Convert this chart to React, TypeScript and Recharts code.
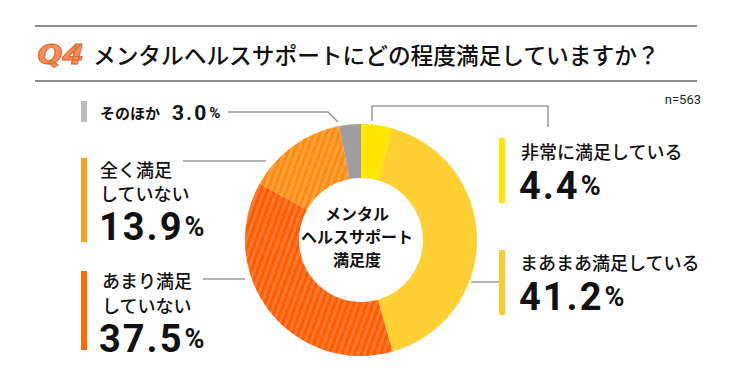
import React from "react";
import { PieChart, Pie, Cell } from "recharts";

const categories = [
  "非常に満足している",
  "まあまあ満足している",
  "あまり満足していない",
  "全く満足していない",
  "そのほか",
];
const shares = [4.4, 41.2, 37.5, 13.9, 3.0];
const sliceFills = [
  "#FFE600",
  "#FFD033",
  "url(#stripeRed)",
  "url(#stripeOrange)",
  "#9E9E9E",
];
const barColors = ["#FFE600", "#FFCC2E", "#FF6A00", "#F9A11B", "#BDBDBD"];
const labelLines = [
  ["非常に満足している"],
  ["まあまあ満足している"],
  ["あまり満足", "していない"],
  ["全く満足", "していない"],
  ["そのほか"],
];

const titleText = "メンタルヘルスサポートにどの程度満足していますか？";
const centerLines = ["メンタル", "ヘルスサポート", "満足度"];
const sampleNote = "n=563";

const chartData = categories.map((name, i) => ({ name, value: shares[i] }));

const JP = '"Noto Sans CJK JP", sans-serif';
const NUM = 'Roboto, "Noto Sans", sans-serif';
const LINE = "#9A9A9A";

function BigPct({ x, y, value, size, pctSize }: { x: number; y: number; value: number; size: number; pctSize: number }) {
  return (
    <text x={x} y={y} fontFamily={NUM} fontWeight={700} fill="#111" dominantBaseline="central" letterSpacing={2}>
      <tspan fontSize={size}>{value.toFixed(1)}</tspan>
      <tspan fontSize={pctSize} dx={1}>%</tspan>
    </text>
  );
}

export default function App() {
  return (
    <div style={{ position: "absolute", left: 0, top: 0, width: 737, height: 387, background: "#fff" }}>
      <svg width={0} height={0} style={{ position: "absolute" }}>
        <defs>
          <pattern id="stripeRed" width="6" height="6" patternUnits="userSpaceOnUse" patternTransform="rotate(20)">
            <rect width="6" height="6" fill="#FF5C00" />
            <rect width="3" height="6" fill="#FF7A30" />
          </pattern>
          <pattern id="stripeOrange" width="6" height="6" patternUnits="userSpaceOnUse" patternTransform="rotate(20)">
            <rect width="6" height="6" fill="#FF8A12" />
            <rect width="3" height="6" fill="#FFA23A" />
          </pattern>
        </defs>
      </svg>
      <PieChart width={737} height={387} style={{ position: "absolute", left: 0, top: 0 }}>
        <Pie
          data={chartData}
          dataKey="value"
          nameKey="name"
          cx={356}
          cy={235}
          innerRadius={62}
          outerRadius={116}
          startAngle={90}
          endAngle={-270}
          stroke="none"
          isAnimationActive={false}
        >
          {chartData.map((d, i) => (
            <Cell key={`cell-${d.name}`} fill={sliceFills[i]} />
          ))}
        </Pie>
      </PieChart>
      <svg width={737} height={387} style={{ position: "absolute", left: 0, top: 0, pointerEvents: "none" }}>
        {/* title block */}
        <line x1={35} y1={26} x2={697} y2={26} stroke="#8C8C8C" strokeWidth={2} />
        <line x1={35} y1={81} x2={697} y2={81} stroke="#8C8C8C" strokeWidth={2} />
        <text x={37} y={54} fontFamily={NUM} fontSize={28} fontWeight={900} fontStyle="italic" fill="#FF8C55" stroke="#D0662E" strokeWidth={0.8} dominantBaseline="central" textLength={46} lengthAdjust="spacingAndGlyphs">
          Q4
        </text>
        <text x={93} y={54} fontFamily={JP} fontSize={22.7} fontWeight={500} fill="#111" dominantBaseline="central">
          {titleText}
        </text>
        <text x={701} y={99} fontFamily={NUM} fontSize={13} fill="#222" textAnchor="end" dominantBaseline="central">
          {sampleNote}
        </text>

        {/* center label */}
        {centerLines.map((t, i) => (
          <text key={t} x={357} y={213 + i * 23} fontFamily={JP} fontSize={16} fontWeight={700} fill="#111" textAnchor="middle" dominantBaseline="central">
            {t}
          </text>
        ))}

        {/* leader lines */}
        <polyline points="372,121 372,106 548,106 548,127" fill="none" stroke={LINE} strokeWidth={1.5} />
        <polyline points="471,282 501,282" fill="none" stroke={LINE} strokeWidth={1.5} />
        <polyline points="203,279 245,279" fill="none" stroke={LINE} strokeWidth={1.5} />
        <polyline points="183,161 266,161" fill="none" stroke={LINE} strokeWidth={1.5} />
        <polyline points="228,112 328,112 338,122" fill="none" stroke={LINE} strokeWidth={1.5} />

        {/* right labels */}
        <rect x={499} y={138} width={6} height={65} fill={barColors[0]} />
        <text x={521} y={151} fontFamily={JP} fontSize={18} fontWeight={500} fill="#111" dominantBaseline="central">
          {labelLines[0][0]}
        </text>
        <BigPct x={519} y={186} value={shares[0]} size={38} pctSize={27} />

        <rect x={499} y={250} width={6} height={65} fill={barColors[1]} />
        <text x={520} y={262} fontFamily={JP} fontSize={18} fontWeight={500} fill="#111" dominantBaseline="central">
          {labelLines[1][0]}
        </text>
        <BigPct x={519} y={297} value={shares[1]} size={38} pctSize={27} />

        {/* left labels */}
        <rect x={81} y={271} width={6} height={79} fill={barColors[2]} />
        {labelLines[2].map((t, i) => (
          <text key={t} x={102} y={280 + i * 25} fontFamily={JP} fontSize={18} fontWeight={500} fill="#111" dominantBaseline="central">
            {t}
          </text>
        ))}
        <BigPct x={99} y={339} value={shares[2]} size={38} pctSize={27} />

        <rect x={81} y={158} width={6} height={84} fill={barColors[3]} />
        {labelLines[3].map((t, i) => (
          <text key={t} x={100} y={169 + i * 24} fontFamily={JP} fontSize={18} fontWeight={500} fill="#111" dominantBaseline="central">
            {t}
          </text>
        ))}
        <BigPct x={99} y={227} value={shares[3]} size={38} pctSize={27} />

        <rect x={81} y={101} width={6} height={21} fill={barColors[4]} />
        <text x={100} y={112} fontFamily={JP} fontSize={15} fontWeight={700} fill="#111" dominantBaseline="central">
          {labelLines[4][0]}
        </text>
        <BigPct x={172} y={113} value={shares[4]} size={21} pctSize={15} />
      </svg>
    </div>
  );
}
